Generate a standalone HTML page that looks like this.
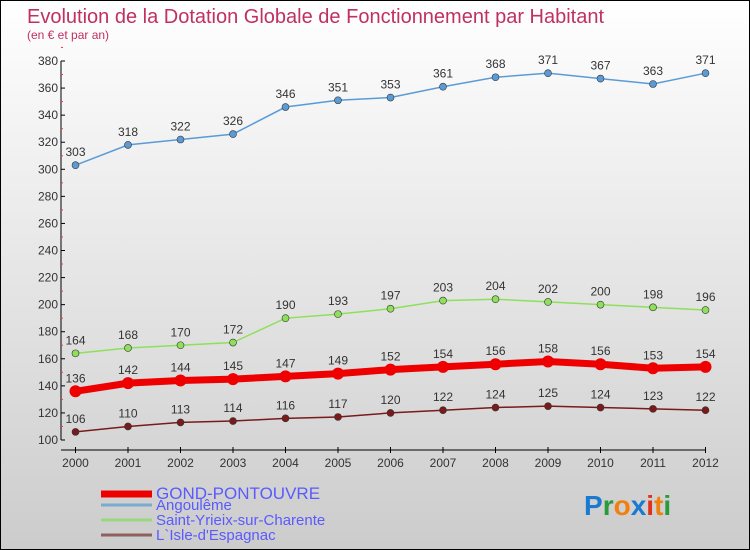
<!DOCTYPE html>
<html><head><meta charset="utf-8"><style>
body{margin:0}
#c{position:relative;width:748px;height:548px;border:1px solid #000;background:linear-gradient(#fff,#ccc);overflow:hidden;font-family:"Liberation Sans",sans-serif}
</style></head><body>
<div id="c">
<svg id="s" width="748" height="548" style="position:absolute;left:0;top:0">
<text x="26" y="22" font-size="20" fill="#c03060">Evolution de la Dotation Globale de Fonctionnement par Habitant</text>
<text x="26" y="38" font-size="12" fill="#c03060">(en € et par an)</text>
<g id="axes"></g><g id="series"></g><g id="legend"></g>
<text x="583" y="514" font-size="28" font-weight="bold"><tspan fill="#1a7ad0">P</tspan><tspan fill="#2a9a3a">r</tspan><tspan fill="#f08010">o</tspan><tspan fill="#1a7ad0">x</tspan><tspan fill="#e03020">i</tspan><tspan fill="#f08010">t</tspan><tspan fill="#2a9a3a">i</tspan></text>
</svg>
</div>
<script>
const years=[2000,2001,2002,2003,2004,2005,2006,2007,2008,2009,2010,2011,2012];
const gond=[136,142,144,145,147,149,152,154,156,158,156,153,154];
const angouleme=[303,318,322,326,346,351,353,361,368,371,367,363,371];
const saintYrieix=[164,168,170,172,190,193,197,203,204,202,200,198,196];
const isle=[106,110,113,114,116,117,120,122,124,125,124,123,122];
const yTicks=[100,120,140,160,180,200,220,240,260,280,300,320,340,360,380];
const NS="http://www.w3.org/2000/svg";
const X=i=>74.5+i*52.5, Y=v=>439-(v-100)*379/280;
function mk(t,a,p){const e=document.createElementNS(NS,t);for(const k in a)e.setAttribute(k,a[k]);p.appendChild(e);return e;}
const ax=document.getElementById('axes');
const yl=mk('line',{x1:60,y1:Y(380),x2:60,y2:Y(100),stroke:'#000'},ax);


yTicks.forEach(v=>{
 mk('line',{x1:60,x2:64,y1:Y(v),y2:Y(v),stroke:'#000'},ax);
 mk('line',{x1:60,x2:62,y1:Y(v+10),y2:Y(v+10),stroke:'#f33'},ax);
 const t=mk('text',{x:57,y:Y(v)+4,'font-size':12,fill:'#333','text-anchor':'end'},ax);t.textContent=v;
 
 
});
const xl=mk('line',{x1:60,y1:449,x2:X(12),y2:449,stroke:'#000'},ax);


years.forEach((y,i)=>{
 mk('line',{x1:X(i),x2:X(i),y1:446,y2:452,stroke:'#000'},ax);
 const t=mk('text',{x:X(i),y:466,'font-size':12,fill:'#333','text-anchor':'middle'},ax);t.textContent=y;
 
 
});
const se=document.getElementById('series');
function series(d,col,w,r,name){
 const p=mk('polyline',{points:d.map((v,i)=>X(i)+','+Y(v)).join(' '),fill:'none',stroke:col,'stroke-width':w},se);
 
 
 d.forEach((v,i)=>{
  const c=mk('circle',{cx:X(i),cy:Y(v),r:r,fill:col,stroke:'#333','stroke-width':w>4?0:0.6},se);
  
  
  const t=mk('text',{x:X(i),y:Y(v)-9,'font-size':12,fill:'#333','text-anchor':'middle'},se);t.textContent=v;
  
  
 });
}
series(angouleme,'#5b9bd5',1.5,3.5,'angouleme');
series(saintYrieix,'#8ee05a',1.5,3.5,'saint-yrieix');
series(isle,'#7a1a1a',1.5,3.5,'isle-d-espagnac');
series(gond,'#ee0000',7,6,'gond-pontouvre');
const lg=document.getElementById('legend');
[['GOND-PONTOUVRE','#ee0000',7,'legend-gond-pontouvre',497],['Angoulême','#7aaad0',3,'legend-angouleme',508],['Saint-Yrieix-sur-Charente','#9ad880',3,'legend-saint-yrieix',523],['L`Isle-d\'Espagnac','#906060',3,'legend-isle-d-espagnac',538]].forEach(e=>{
 const y=e[4]-4;
 mk('line',{x1:100,x2:151,y1:y,y2:y,stroke:e[1],'stroke-width':e[2]},lg);
 const t=mk('text',{x:155,y:e[4]+1,'font-size':e[0]=='GOND-PONTOUVRE'?17:15,fill:'#5a5aff'},lg);t.textContent=e[0];
 
 
});
</script>
</body></html>
